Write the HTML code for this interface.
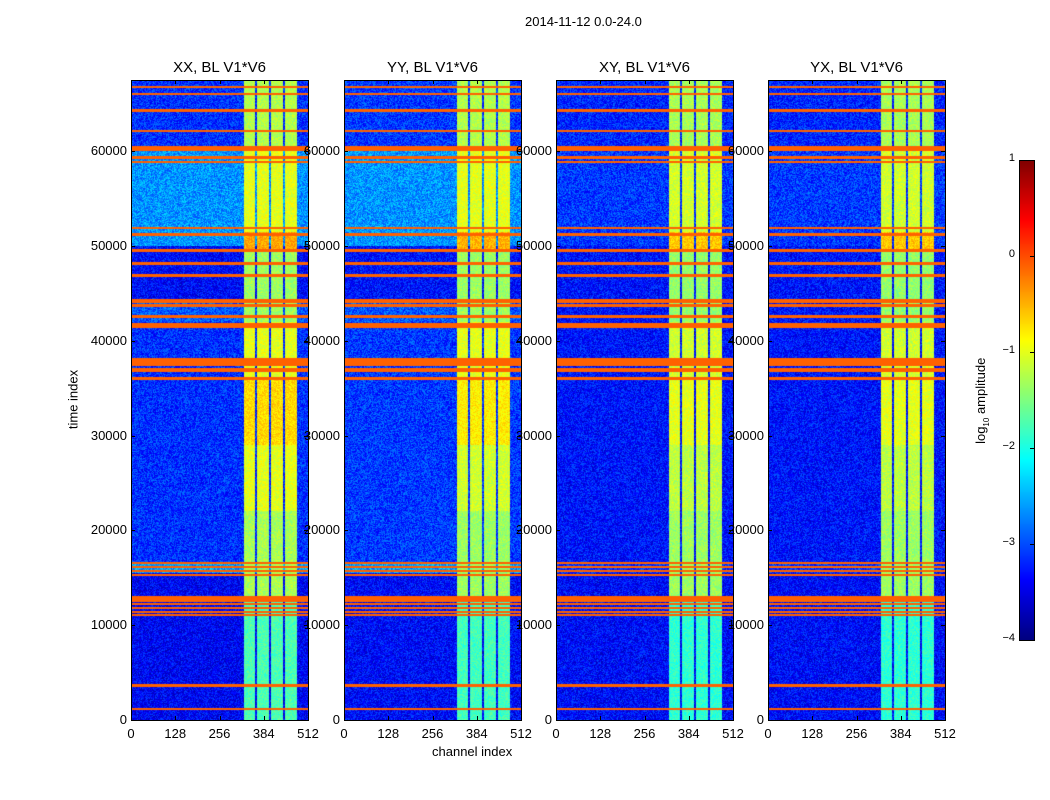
<!DOCTYPE html>
<html><head><meta charset="utf-8">
<style>
body{margin:0;background:#fff;width:1050px;height:800px;position:relative;overflow:hidden;font-family:"Liberation Sans",sans-serif;color:#000}
.t{position:absolute;white-space:nowrap;font-size:13px}
canvas{position:absolute}
.frame{position:absolute;border:1px solid #000;box-sizing:border-box}
.tk{position:absolute;background:#000}
</style></head><body>
<div class="t" style="left:525px;top:14px">2014-11-12 0.0-24.0</div>
<div class="t" style="left:33px;top:392px;transform:rotate(-90deg);transform-origin:center;width:80px;text-align:center">time index</div>
<div class="t" style="left:432px;top:744px">channel index</div>
<div id="root"></div>
<script>
// ---- data ----
const panelNames = ["XX, BL V1*V6","YY, BL V1*V6","XY, BL V1*V6","YX, BL V1*V6"];
const panelLefts = [131,344,556,768];
const tMax = 67500;
const chMax = 512;
const xTicks = [0,128,256,384,512];
const yTicks = [0,10000,20000,30000,40000,50000,60000];
const cbTicks = [1,0,-1,-2,-3,-4];
// background time bands per panel: [t0,t1,log-amplitude]
const bandsXX = [[0,15500,-3.4],[15500,16600,-2.6],[16600,42000,-3.15],[42000,44000,-2.95],[44000,50000,-3.35],[50000,60000,-2.65],[60000,67500,-3.15]];
const bandsYY = [[0,15500,-3.35],[15500,16600,-2.6],[16600,42000,-3.1],[42000,44000,-2.95],[44000,50000,-3.3],[50000,60000,-2.65],[60000,67500,-3.1]];
const bandsXY = [[0,15500,-3.35],[15500,16600,-3.15],[16600,50000,-3.3],[50000,60000,-3.1],[60000,67500,-3.2]];
const bandsYX = [[0,15500,-3.35],[15500,16600,-3.15],[16600,50000,-3.3],[50000,60000,-3.1],[60000,67500,-3.2]];
// bright channel stripes [ch0,ch1]
const stripes = [[326,358],[365,400],[406,440],[446,480]];
// stripe level per time band [t0,t1,level]
const stripeLevelsXX = [[0,13000,-1.75],[13000,22000,-1.3],[22000,29000,-1.0],[29000,36000,-0.7],[36000,42000,-1.0],[42000,49500,-1.35],[49500,51500,-0.45],[51500,60000,-1.0],[60000,67500,-1.25]];
const stripeLevelsYY = [[0,13000,-1.8],[13000,22000,-1.35],[22000,29000,-1.1],[29000,36000,-0.8],[36000,42000,-1.0],[42000,49500,-1.35],[49500,51500,-0.5],[51500,60000,-1.0],[60000,67500,-1.25]];
const stripeLevelsXY = [[0,13000,-1.9],[13000,22000,-1.35],[22000,29000,-1.2],[29000,36000,-1.0],[36000,42000,-1.1],[42000,49500,-1.4],[49500,51500,-0.6],[51500,60000,-1.1],[60000,67500,-1.3]];
const stripeLevelsYX = [[0,13000,-1.9],[13000,22000,-1.35],[22000,29000,-1.2],[29000,36000,-1.0],[36000,42000,-1.1],[42000,49500,-1.4],[49500,51500,-0.6],[51500,60000,-1.1],[60000,67500,-1.3]];
// flagged rows: centre time and full thickness
const flagTimes = [1160,3650,11050,11400,11800,12250,12750,15300,15700,16150,16600,36000,36950,37750,41600,42550,43720,44050,44250,46880,48150,49530,51220,51850,58820,59350,60300,62100,64300,66000,66750];
const flagWidths = [150,150,120,120,120,120,550,120,120,120,120,250,350,650,400,150,120,120,120,120,150,150,150,120,120,180,400,150,150,150,180];
const flagLevel = -0.1;

const bandSets=[bandsXX,bandsYY,bandsXY,bandsYX];
const stripeSets=[stripeLevelsXX,stripeLevelsYY,stripeLevelsXY,stripeLevelsYX];
const PT=80, PH=640, PW=177;
function yOf(t){return PT+PH-t/tMax*PH;}
function xOf(c,L){return L+c/chMax*PW;}
function jet(v){let n=(v+4)/5;n=Math.max(0,Math.min(1,n));
 const f=x=>Math.max(0,Math.min(1,x));
 return [f(1.5-Math.abs(4*n-3))*255,f(1.5-Math.abs(4*n-2))*255,f(1.5-Math.abs(4*n-1))*255];}
function hash(x,y,s){let h=(x*374761393+y*668265263+s*2147483647)|0;h=(h^(h>>>13))*1274126177|0;h=h^(h>>>16);return ((h>>>0)%10000)/10000;}
function lookup(arr,t){for(const b of arr)if(t>=b[0]&&t<b[1])return b[2];return arr[arr.length-1][2];}
const root=document.getElementById('root');
function add(tag,cls,style,name,text){const e=document.createElement(tag);if(cls)e.className=cls;e.style.cssText=style;
 
 
 if(text!==undefined)e.textContent=text;root.appendChild(e);return e;}
const rowH=tMax/PH;
panelLefts.forEach((L,p)=>{
 const cv=document.createElement('canvas');cv.width=PW;cv.height=PH;cv.style.left=L+'px';cv.style.top=PT+'px';
 
 
 root.appendChild(cv);
 const ctx=cv.getContext('2d');const img=ctx.createImageData(PW,PH);
 for(let py=0;py<PH;py++){const tLo=(PH-py-1)*rowH, tHi=(PH-py)*rowH, t=(tLo+tHi)/2;
  const base=lookup(bandSets[p],t), sl=lookup(stripeSets[p],t);
  let flag=false;
  for(let i=0;i<flagTimes.length;i++){const a=flagTimes[i]-flagWidths[i]/2,b=flagTimes[i]+flagWidths[i]/2;
   if(Math.min(b,tHi)-Math.max(a,tLo)>0)flag=true;}
  for(let px=0;px<PW;px++){const ch=(px+0.5)/PW*chMax;let v=base;let inS=false;
   for(const s of stripes)if(ch>=s[0]&&ch<s[1]){v=sl;inS=true;}
   v+= (hash(px,py,p)-0.5)*(inS?0.45:0.75);
   if(flag)v=flagLevel;
   const c=jet(v);const k=(py*PW+px)*4;img.data[k]=c[0];img.data[k+1]=c[1];img.data[k+2]=c[2];img.data[k+3]=255;}}
 ctx.putImageData(img,0,0);
 add('div','frame',`left:${L}px;top:${PT}px;width:${PW+1}px;height:${PH+1}px`,'panel-frame-'+p);
 add('div','t',`left:${L}px;width:${PW}px;top:59px;text-align:center;font-size:15px`,'panel-title',panelNames[p]);
 xTicks.forEach(c=>{const x=xOf(c,L);
  add('div','tk',`left:${x}px;top:${PT+PH-4}px;width:1px;height:4px`,'x-tick');
  add('div','tk',`left:${x}px;top:${PT}px;width:1px;height:4px`,'x-tick');
  add('div','t',`left:${x-20}px;width:40px;text-align:center;top:${PT+PH+6}px`,'x-tick-label',String(c));});
});
panelLefts.forEach((L,p)=>{
 yTicks.forEach(t=>{const y=yOf(t);
  add('div','tk',`left:${L}px;top:${y}px;width:4px;height:1px`,'y-tick');
  add('div','tk',`left:${L+PW-4}px;top:${y}px;width:4px;height:1px`,'y-tick');
  add('div','t',`left:${L-64}px;width:60px;text-align:right;top:${y-8}px`,'y-tick-label',String(t));});
});
// colorbar
const cbTop=160, cbH=480, cbL=1019, cbW=15;
const cb=document.createElement('canvas');cb.width=cbW;cb.height=cbH;cb.style.left=cbL+'px';cb.style.top=cbTop+'px';


root.appendChild(cb);
const cc=cb.getContext('2d');for(let y=0;y<cbH;y++){const c=jet(1-5*(y+0.5)/cbH);cc.fillStyle=`rgb(${c[0]|0},${c[1]|0},${c[2]|0})`;cc.fillRect(0,y,cbW,1);}
add('div','frame',`left:${cbL}px;top:${cbTop}px;width:${cbW+1}px;height:${cbH+1}px`,'colorbar-frame');
cbTicks.forEach(v=>{const y=cbTop+(1-v)/5*cbH;
 add('div','tk',`left:${cbL+cbW-4}px;top:${y}px;width:4px;height:1px`,'colorbar-tick');
 add('div','t',`left:${cbL-36}px;width:32px;text-align:right;top:${y-8}px;font-size:11px`,'colorbar-tick-label',(v<0?'\u2212'+(-v):String(v)));});
</script>
<div class="t" style="left:932px;top:392px;width:100px;text-align:center;transform:rotate(-90deg)">log<sub style="font-size:8px">10</sub> amplitude</div>
</body></html>
